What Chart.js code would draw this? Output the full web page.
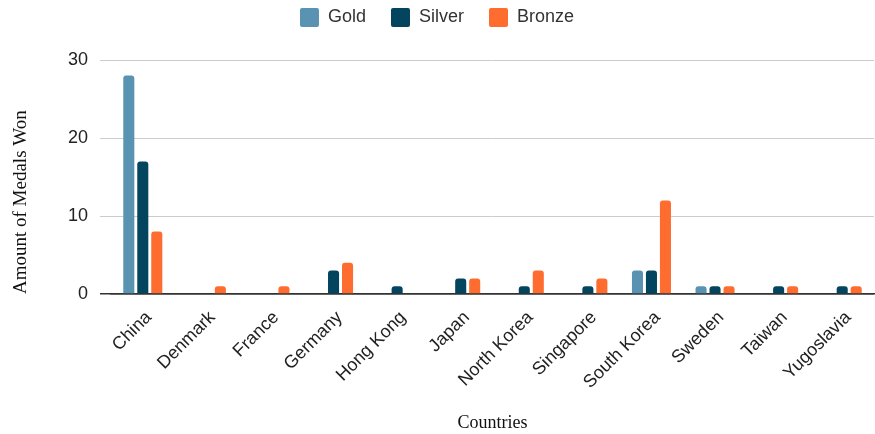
<!DOCTYPE html>
<html>
<head>
<meta charset="utf-8">
<script src="https://cdn.jsdelivr.net/npm/chart.js@4"></script>
<style>
  html, body { margin: 0; padding: 0; background: #fff; }
  #wrap { width: 875px; height: 434px; }
</style>
</head>
<body>
<div id="wrap"><canvas id="medals" width="875" height="434"></canvas></div>
<script>
// medal counts per country
const countries = ['China', 'Denmark', 'France', 'Germany', 'Hong Kong', 'Japan',
  'North Korea', 'Singapore', 'South Korea', 'Sweden', 'Taiwan', 'Yugoslavia'];
const gold   = [28, 0, 0, 0, 0, 0, 0, 0, 3, 1, 0, 0];
const silver = [17, 0, 0, 3, 1, 2, 1, 1, 3, 1, 1, 1];
const bronze = [8, 1, 1, 4, 0, 2, 3, 2, 12, 1, 1, 1];
const yTicks = [0, 10, 20, 30];

const SANS = "'Liberation Sans', Arial, sans-serif";
const SERIF = "'Liberation Serif', 'Times New Roman', serif";

function series(label, data, color) {
  return {
    label: label,
    data: data,
    backgroundColor: color,
    borderColor: color,
    borderWidth: 0,
    borderRadius: { topLeft: 3, topRight: 3 },
    borderSkipped: 'bottom',
    categoryPercentage: 0.66,
    barPercentage: 0.79
  };
}

// legend keeps its horizontal spacing but reserves a fixed height
const legendHeight = {
  id: 'legendHeight',
  beforeInit(chart) {
    const fit = chart.legend.fit;
    chart.legend.fit = function () {
      fit.call(this);
      this.height = 77;
    };
  }
};

const ctx = document.getElementById('medals').getContext('2d');
new Chart(ctx, {
  type: 'bar',
  data: {
    labels: countries,
    datasets: [
      series('Gold', gold, '#5a92b1'),
      series('Silver', silver, '#03455f'),
      series('Bronze', bronze, '#fe6c2f')
    ]
  },
  plugins: [legendHeight],
  options: {
    responsive: false,
    animation: false,
    layout: { padding: { top: -17, right: 1, bottom: 0, left: 0 } },
    plugins: {
      legend: {
        position: 'top',
        labels: {
          boxWidth: 19,
          boxHeight: 19,
          padding: 25,
          color: '#333',
          font: { family: SANS, size: 18 },
          useBorderRadius: true,
          borderRadius: 2
        }
      },
      tooltip: { enabled: false }
    },
    scales: {
      x: {
        grid: { display: false, drawTicks: false },
        border: { display: true, color: '#333', width: 1.5 },
        ticks: {
          autoSkip: false,
          maxRotation: 45,
          minRotation: 45,
          padding: 13,
          labelOffset: 6,
          color: '#222',
          font: { family: SANS, size: 18 }
        },
        title: {
          display: true,
          text: 'Countries',
          color: '#111',
          font: { family: SERIF, size: 18 },
          padding: { top: 0, bottom: 0 }
        },
        afterFit: (scale) => { scale.height = 140; }
      },
      y: {
        min: 0,
        max: 30,
        afterBuildTicks: (scale) => { scale.ticks = yTicks.map(v => ({ value: v })); },
        grid: {
          color: (c) => c.tick && c.tick.value === 0 ? '#333' : '#cccccc',
          lineWidth: (c) => c.tick && c.tick.value === 0 ? 1.5 : 1,
          tickLength: 11
        },
        border: { display: false },
        ticks: {
          padding: 12,
          color: '#222',
          font: { family: SANS, size: 18 }
        },
        title: {
          display: true,
          text: 'Amount of Medals Won',
          align: 'start',
          color: '#111',
          font: { family: SERIF, size: 19 },
          padding: { top: 10, bottom: 4 }
        },
        afterFit: (scale) => { scale.width = 111; }
      }
    }
  }
});
</script>
</body>
</html>
